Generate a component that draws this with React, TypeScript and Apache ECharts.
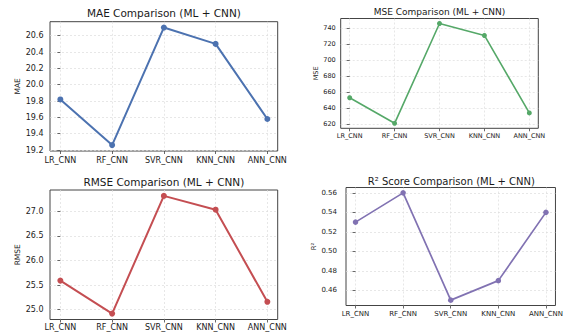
import React, { useEffect, useRef } from "react";
import * as echarts from "echarts";

const categories = ["LR_CNN", "RF_CNN", "SVR_CNN", "KNN_CNN", "ANN_CNN"];
const maeValues = [19.82, 19.26, 20.7, 20.5, 19.58];
const mseValues = [653, 621, 746, 731, 634];
const rmseValues = [25.59, 24.92, 27.31, 27.03, 25.16];
const r2Values = [0.53, 0.56, 0.45, 0.47, 0.54];
const panelTitles = [
  "MAE Comparison (ML + CNN)",
  "MSE Comparison (ML + CNN)",
  "RMSE Comparison (ML + CNN)",
  "R² Score Comparison (ML + CNN)",
];
const yNames = ["MAE", "MSE", "RMSE", "R²"];
const yIntervals = [0.2, 20, 0.5, 0.02];
const yDecimals = [1, 0, 1, 2];
const seriesValues = [maeValues, mseValues, rmseValues, r2Values];
const colors = ["#4C72B0", "#55A868", "#C44E52", "#8172B2"];

const FONT = '"DejaVu Sans", sans-serif';

const layout = [
  { left: 50, top: 21.7, width: 227.7, height: 129.3, tick: 8, title: 10.5, tx: 163.9, ty: 13, nameGap: 27, nameSize: 7.5, xm: 5, ym: 6.5, sym: 6, lw: 2 },
  { left: 340.7, top: 18.5, width: 197.6, height: 109.8, tick: 6.5, title: 9, tx: 439.5, ty: 11.7, nameGap: 21, nameSize: 6.5, xm: 4.5, ym: 5, sym: 5, lw: 1.6 },
  { left: 50, top: 190, width: 227.7, height: 129.5, tick: 8, title: 10.5, tx: 163.9, ty: 182, nameGap: 27, nameSize: 7.5, xm: 4, ym: 6.5, sym: 6, lw: 2 },
  { left: 346, top: 187.5, width: 210.7, height: 118, tick: 7, title: 10, tx: 451.3, ty: 181.3, nameGap: 25, nameSize: 6.8, xm: 5, ym: 9, sym: 5.5, lw: 1.7 },
];

function padExtent(vals: number[]) {
  const lo = Math.min(...vals);
  const hi = Math.max(...vals);
  const pad = (hi - lo) * 0.05;
  return [lo - pad, hi + pad];
}

function niceTicks(lo: number, hi: number, step: number) {
  const out: number[] = [];
  const start = Math.ceil(lo / step - 1e-9);
  const end = Math.floor(hi / step + 1e-9);
  for (let k = start; k <= end; k++) out.push(Number((k * step).toFixed(6)));
  return out;
}

export default function App() {
  const ref = useRef<HTMLDivElement>(null);
  useEffect(() => {
    if (!ref.current) return;
    const chart = echarts.init(ref.current, undefined, { renderer: "svg" });
    const grid = layout.map((p) => ({
      left: p.left,
      top: p.top,
      width: p.width,
      height: p.height,
      show: true,
      borderColor: "#444",
      borderWidth: 1,
      backgroundColor: "transparent",
    }));
    const catIdx = categories.map((_, i) => i);
    const xAxis = layout.map((p, i) => ({
      type: "value",
      gridIndex: i,
      min: -0.2,
      max: categories.length - 1 + 0.2,
      minInterval: 1,
      maxInterval: 1,
      axisLine: { show: false },
      axisTick: { show: true, length: 3, customValues: catIdx, lineStyle: { color: "#444", width: 0.8 } },
      axisLabel: {
        fontSize: p.tick,
        fontFamily: FONT,
        color: "#1a1a1a",
        margin: p.xm,
        showMinLabel: false,
        showMaxLabel: false,
        formatter: (v: number) => (Number.isInteger(v) && categories[v] ? categories[v] : ""),
      },
      splitLine: { show: true, lineStyle: { type: [2, 2], color: "#dcdcdc", width: 0.7 } },
    }));
    const yAxis = layout.map((p, i) => {
      const [lo, hi] = padExtent(seriesValues[i]);
      const step = yIntervals[i];
      return {
        type: "value",
        gridIndex: i,
        min: lo,
        max: hi,
        minInterval: step,
        maxInterval: step,
        name: yNames[i],
        nameLocation: "middle",
        nameGap: p.nameGap,
        nameTextStyle: { fontSize: p.nameSize, fontFamily: FONT, color: "#1a1a1a" },
        axisLine: { show: false },
        axisTick: { show: true, length: 3, customValues: niceTicks(lo, hi, step), lineStyle: { color: "#444", width: 0.8 } },
        axisLabel: {
          fontSize: p.tick,
          fontFamily: FONT,
          color: "#1a1a1a",
          margin: p.ym,
          showMinLabel: false,
          showMaxLabel: false,
          formatter: (v: number) => v.toFixed(yDecimals[i]),
        },
        splitLine: { show: true, lineStyle: { type: [2, 2], color: "#dcdcdc", width: 0.7 } },
      };
    });
    const series = layout.map((p, i) => ({
      type: "line",
      xAxisIndex: i,
      yAxisIndex: i,
      data: seriesValues[i].map((v, j) => [j, v]),
      symbol: "circle",
      symbolSize: p.sym,
      showSymbol: true,
      clip: false,
      lineStyle: { color: colors[i], width: p.lw },
      itemStyle: { color: colors[i] },
    }));
    const graphic = layout.map((p, i) => ({
      type: "text",
      x: p.tx,
      y: p.ty,
      style: {
        text: panelTitles[i],
        fill: "#1a1a1a",
        fontSize: p.title,
        fontFamily: FONT,
        align: "center",
        verticalAlign: "middle",
      },
    }));
    chart.setOption({
      animation: false,
      backgroundColor: "#ffffff",
      grid,
      xAxis,
      yAxis,
      series,
      graphic,
    } as any);
    return () => chart.dispose();
  }, []);
  return (
    <div
      ref={ref}
      style={{ position: "fixed", left: 0, top: 0, width: 566, height: 335, background: "#fff" }}
    />
  );
}
